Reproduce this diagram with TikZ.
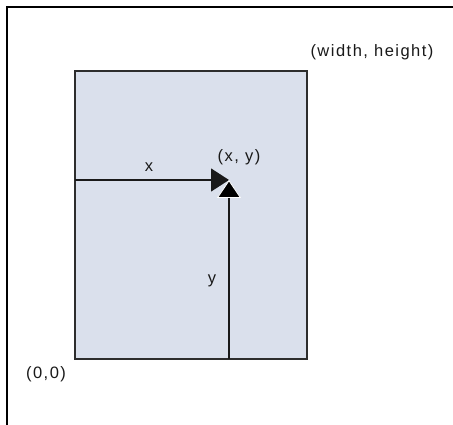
\documentclass[tikz,border=0pt]{standalone}
\usepackage{fontspec}
\setmainfont{Liberation Sans}[LetterSpace=9]
\usetikzlibrary{arrows.meta}
\definecolor{paneblue}{RGB}{218,224,236}
\definecolor{edgegray}{RGB}{45,45,45}
\begin{document}
\begin{tikzpicture}[x=1pt,y=-1pt,
  lbl/.style={font=\fontsize{16.5}{18}\selectfont, text=black!90, inner sep=0},
  axisarrow/.style={line width=1.3pt, draw=black!90, -{Triangle[length=18pt,width=23pt]}},
  cutarrow/.style={line width=1.3pt, draw=black!90, -{Triangle[length=18pt,width=24pt,color=white,fill=black,line width=0.8pt]}}]
\useasboundingbox (0,0) rectangle (453,425);
% outer frame (left and top)
\draw[line width=2pt, black] (7,426) -- (7,7) -- (454,7);
% page rectangle
\coordinate (o) at (75,359);
\coordinate (wh) at (307,71);
\draw[fill=paneblue, draw=edgegray, line width=1.6pt] (o) rectangle (wh);
% point and arrow starts
\coordinate (p) at (229,180);
\coordinate (xs) at (75,180);
\coordinate (ys) at (229,359);
\draw[axisarrow] (xs) -- (p);
\draw[cutarrow] (ys) -- (p);
% labels
\node[lbl] (lwh) at (372,52) {(width, height)};
\node[lbl] (lx) at (149,167) {x};
\node[lbl] (lxy) at (239,157) {(x, y)};
\node[lbl] (ly) at (212,281) {y};
\node[lbl] (lo) at (46,374) {(0,0)};
\end{tikzpicture}
\end{document}
